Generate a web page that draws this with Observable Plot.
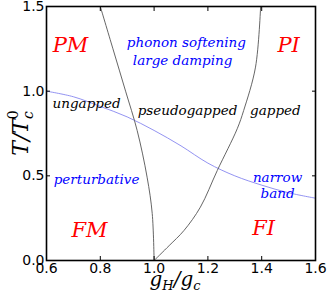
<!DOCTYPE html>
<html><head><meta charset="utf-8">
<script src="https://cdn.jsdelivr.net/npm/d3@7"></script>
<script src="https://cdn.jsdelivr.net/npm/@observablehq/plot@0.6"></script>
<style>html,body{margin:0;padding:0;background:#fff}svg{display:block}</style>
</head><body><div id="chart"></div>
<script>
// crossover line (blue): T/Tc0 vs gH/gc
const blueG = [0.6, 0.7, 0.8, 0.9, 1.0, 1.1, 1.2, 1.3, 1.4, 1.5, 1.6];
const blueT = [1.0, 0.967, 0.91, 0.848, 0.768, 0.677, 0.575, 0.50, 0.445, 0.40, 0.368];
// left phase boundary (black)
const leftT = [0, 0.278, 0.492, 0.768, 1.0, 1.25, 1.5];
const leftG = [1.0, 0.993, 0.974, 0.937, 0.894, 0.847, 0.80];
// right phase boundary (black)
const rightT = [0, 0.088, 0.177, 0.315, 0.532, 0.778, 0.886, 1.142, 1.5];
const rightG = [1.0, 1.056, 1.111, 1.172, 1.235, 1.309, 1.333, 1.377, 1.396];
// tick values
const xTicks = [0.6, 0.8, 1.0, 1.2, 1.4, 1.6];
const yTicks = [0.0, 0.5, 1.0, 1.5];
// region labels
const phaseLabels = [
  {text: "PM", g: 0.689, T: 1.27},
  {text: "PI", g: 1.50, T: 1.27},
  {text: "FM", g: 0.76, T: 0.177},
  {text: "FI", g: 1.407, T: 0.189}
];
const blueLabels = [
  {text: "phonon softening", g: 1.12, T: 1.287},
  {text: "large damping", g: 1.106, T: 1.181},
  {text: "perturbative", g: 0.786, T: 0.478},
  {text: "narrow", g: 1.459, T: 0.49},
  {text: "band", g: 1.459, T: 0.396}
];
const blackLabels = [
  {text: "ungapped", g: 0.749, T: 0.927},
  {text: "pseudogapped", g: 1.124, T: 0.886},
  {text: "gapped", g: 1.451, T: 0.886}
];

const blue = blueG.map((g, i) => ({g, T: blueT[i]}));
const left = leftG.map((g, i) => ({g, T: leftT[i]}));
const right = rightG.map((g, i) => ({g, T: rightT[i]}));

const serif = "DejaVu Serif";
const svg = Plot.plot({
  width: 327, height: 294,
  marginLeft: 46, marginRight: 12, marginTop: 6, marginBottom: 34,
  style: {fontFamily: "DejaVu Sans", fontSize: "14px", background: "#fff", color: "#000"},
  x: {domain: [0.6, 1.6]},
  y: {domain: [0, 1.5]},
  marks: [
    Plot.line(blue, {x: "g", y: "T", curve: "catmull-rom", stroke: "#7777ee", strokeWidth: 0.8}),
    Plot.line(left, {x: "g", y: "T", curve: "catmull-rom", stroke: "#555", strokeWidth: 0.9}),
    Plot.line(right, {x: "g", y: "T", curve: "catmull-rom", stroke: "#555", strokeWidth: 0.9}),
    Plot.text(phaseLabels, {x: "g", y: "T", text: "text", fill: "#ff0000", fontSize: 21, fontStyle: "italic", fontFamily: serif}),
    Plot.text(blueLabels, {x: "g", y: "T", text: "text", fill: "#0000ff", fontSize: 13.5, fontStyle: "italic", fontFamily: serif}),
    Plot.text(blackLabels, {x: "g", y: "T", text: "text", fill: "#000", fontSize: 13.5, fontStyle: "italic", fontFamily: serif}),
    Plot.axisX({anchor: "bottom", ticks: xTicks, tickFormat: d3.format(".1f"), tickSize: -4, tickPadding: 7, label: null}),
    Plot.axisX({anchor: "top", ticks: xTicks, tickSize: -4, fill: "none", label: null}),
    Plot.axisY({anchor: "left", ticks: yTicks, tickFormat: d3.format(".1f"), tickSize: -4, tickPadding: 6, label: null}),
    Plot.axisY({anchor: "right", ticks: yTicks, tickSize: -4, fill: "none", label: null}),
    Plot.frame({stroke: "#000", strokeWidth: 1.6})
  ]
});
const s = d3.select(svg);
// y axis label T/T_c^0
const yl = s.append("text")
  .attr("transform", "translate(28,133) rotate(-90)")
  .attr("text-anchor", "middle")
  .attr("font-family", serif).attr("font-style", "italic").attr("font-size", 22).attr("fill", "#000");
yl.append("tspan").text("T/T");
yl.append("tspan").attr("font-size", 14).attr("dy", 5).text("c");
yl.append("tspan").attr("font-size", 14).attr("dx", -8).attr("dy", -15).attr("font-style", "normal").text("0");
// x axis label g_H/g_c
const xl = s.append("text")
  .attr("x", 175).attr("y", 286)
  .attr("text-anchor", "middle")
  .attr("font-family", serif).attr("font-style", "italic").attr("font-size", 20).attr("fill", "#000");
xl.append("tspan").text("g");
xl.append("tspan").attr("font-size", 13).attr("dy", 4).text("H");
xl.append("tspan").attr("dy", -4).text("/g");
xl.append("tspan").attr("font-size", 13).attr("dy", 4).text("c");
document.getElementById("chart").appendChild(svg);
</script>
</body></html>
